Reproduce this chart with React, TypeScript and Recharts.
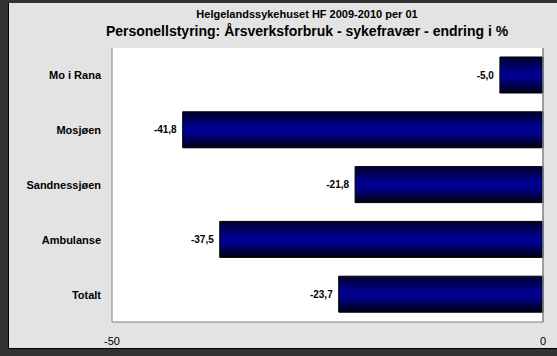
import { BarChart, Bar, XAxis, YAxis, CartesianGrid, LabelList, ReferenceLine } from 'recharts'

const units = ['Mo i Rana', 'Mosjøen', 'Sandnessjøen', 'Ambulanse', 'Totalt']
const changes = [-5.0, -41.8, -21.8, -37.5, -23.7]
const xTicks = [-50, 0]

const data = units.map((unit, i) => ({ unit, value: changes[i] }))

const font = '"Liberation Sans", Arial, sans-serif'

// label sits left of the bar's far (negative) end
function EndLabel(props: any) {
  const { x, y, width, height, value } = props
  const left = Math.min(Number(x), Number(x) + Number(width))
  return (
    <text
      x={left - 6}
      y={Number(y) + Number(height) / 2}
      textAnchor="end"
      dominantBaseline="central"
      fontSize={10}
      fontWeight="bold"
      fill="#000"
      fontFamily={font}
    >
      {Number(value).toFixed(1).replace('.', ',')}
    </text>
  )
}

export default function App() {
  return (
    <div style={{ position: 'absolute', left: 0, top: 0, width: 557, height: 356, background: '#323232', fontFamily: font }}>
      <div
        style={{
          position: 'absolute',
          left: 8,
          top: 3,
          width: 549,
          height: 346,
          background: '#e3e3e3',
          borderLeft: '1px solid #000',
          borderBottom: '1px solid #000',
          boxSizing: 'border-box',
        }}
      />
      <div style={{ position: 'absolute', left: 0, top: 0 }}>
        <BarChart
          width={557}
          height={356}
          data={data}
          layout="vertical"
          margin={{ top: 48, right: 14, left: 8, bottom: 10 }}
          barSize={36}
        >
          <defs>
            <linearGradient id="barFill" x1="0" y1="0" x2="0" y2="1">
              <stop offset="0%" stopColor="#00002a" />
              <stop offset="45%" stopColor="#000092" />
              <stop offset="60%" stopColor="#00008a" />
              <stop offset="100%" stopColor="#000010" />
            </linearGradient>
          </defs>
          <CartesianGrid fill="#ffffff" horizontal={false} vertical={false} />
          <XAxis
            type="number"
            domain={[-50, 0]}
            ticks={xTicks}
            tick={{ fontSize: 11, fill: '#000', fontFamily: font }}
            tickLine={false}
            axisLine={{ stroke: '#808080' }}
            tickMargin={9}
            height={24}
          />
          <XAxis
            xAxisId="top"
            orientation="top"
            type="number"
            domain={[-50, 0]}
            tick={false}
            tickLine={false}
            axisLine={{ stroke: '#303030', strokeWidth: 1.5 }}
            height={0}
          />
          <YAxis
            type="category"
            dataKey="unit"
            width={104}
            tick={{ fontSize: 11, fill: '#000', fontWeight: 'bold', fontFamily: font }}
            tickLine={false}
            axisLine={{ stroke: '#808080' }}
            tickMargin={5}
          />
          <ReferenceLine x={0} stroke="#808080" strokeWidth={1.5} />
          <Bar dataKey="value" fill="url(#barFill)" stroke="#000" strokeWidth={1} isAnimationActive={false}>
            <LabelList dataKey="value" content={EndLabel} />
          </Bar>
        </BarChart>
      </div>
      <div
        style={{
          position: 'absolute',
          left: 8,
          width: 598,
          top: 7,
          fontSize: 11,
          fontWeight: 'bold',
          color: '#000',
          textAlign: 'center',
          lineHeight: '14px',
        }}
      >
        Helgelandssykehuset HF 2009-2010 per 01
      </div>
      <div
        style={{
          position: 'absolute',
          left: 8,
          width: 598,
          top: 23,
          fontSize: 14,
          fontWeight: 'bold',
          color: '#000',
          textAlign: 'center',
          lineHeight: '17px',
        }}
      >
        Personellstyring: Årsverksforbruk - sykefravær - endring i %
      </div>
    </div>
  )
}
